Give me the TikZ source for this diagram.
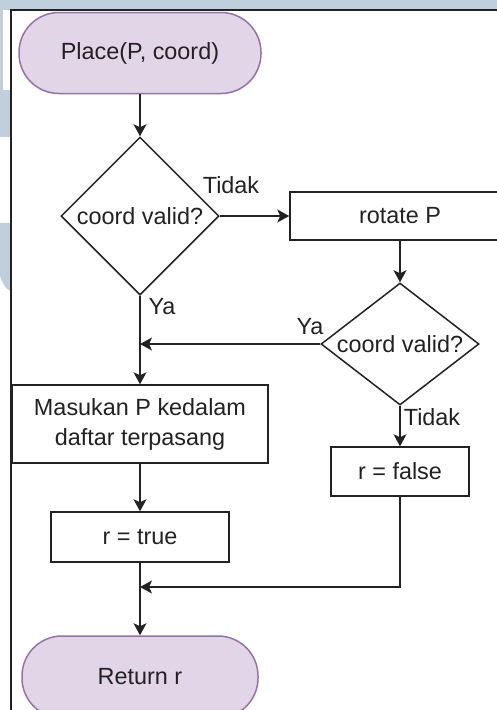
\documentclass[tikz,border=0pt]{standalone}
\usepackage{fontspec}
\setmainfont{Liberation Sans}
\usetikzlibrary{shapes.geometric,arrows.meta}

\definecolor{termfill}{HTML}{E1D5E7}
\definecolor{termline}{HTML}{9673A6}
\definecolor{ink}{HTML}{222222}
\definecolor{band}{HTML}{BFCFDC}

\tikzset{
  base/.style={draw=ink, line width=1.5pt, text=ink, inner sep=0pt,
               font=\fontsize{23.4}{28}\selectfont},
  terminal/.style={base, draw=termline, fill=termfill, rounded corners=40pt},
  process/.style={base, rectangle, fill=white},
  decision/.style={base, diamond, fill=white},
  flow/.style={draw=ink, line width=1.5pt,
               -{Stealth[length=12pt,width=13pt,inset=3pt]}},
  plain/.style={draw=ink, line width=1.5pt},
  tag/.style={text=ink, inner sep=0pt, font=\fontsize{23.4}{28}\selectfont}
}

\begin{document}
\begin{tikzpicture}[x=1pt,y=-1pt]
  \useasboundingbox (0,0) rectangle (497,710);
  \clip (0,0) rectangle (497,710);
  \fill[white] (0,0) rectangle (497,710);

  % page backdrop showing around the frame
  \fill[band] (0,0) rectangle (497,9.5);
  \fill[band] (0,0) rectangle (3,90);
  \fill[band] (0,90) rectangle (10.5,137);
  \fill[band] (0,223) -- (10.5,223) -- (10.5,291) .. controls (5,289) and (2,282) .. (0,276) -- cycle;

  % frame edges
  \draw[ink, line width=1.2pt] (11,710) -- (11,10) -- (497,10);

  % nodes
  \node[terminal, minimum width=242pt, minimum height=81pt] (start) at (140,53) {Place(P, coord)};
  \node[decision, minimum width=158pt, minimum height=158pt] (d1) at (140,216) {coord valid?};
  \node[process, minimum width=220pt, minimum height=48pt] (rot) at (400,216) {rotate P};
  \node[decision, shape aspect=1.3, minimum width=158pt, minimum height=122pt] (d2) at (400,344) {coord valid?};
  \node[process, align=center, minimum width=256pt, minimum height=78pt] (mas) at (140,424)
       {Masukan P kedalam\\[2pt]daftar terpasang};
  \node[process, minimum width=178pt, minimum height=50pt] (rt) at (140,537) {r = true};
  \node[process, minimum width=138pt, minimum height=49pt] (rf) at (400,471.5) {r = false};
  \node[terminal, minimum width=236pt, minimum height=82pt] (ret) at (140,677) {Return r};

  % junction points on the main column
  \coordinate (j1) at (140,344);
  \coordinate (j2) at (140,587);
  \coordinate (k2) at (400,587);

  % connectors
  \draw[flow] (start) -- (d1);
  \draw[flow] (d1.east) -- (rot.west);
  \draw[flow] (rot.south) -- (d2.north);
  \draw[flow] (d2.west) -- (j1);
  \draw[flow] (d1.south) -- (mas.north);
  \draw[flow] (d2.south) -- (rf.north);
  \draw[flow] (mas.south) -- (rt.north);
  \draw[flow] (rt.south) -- (ret.north);
  \draw[flow] (rf.south) -- (k2) -- (j2);

  % branch labels
  \node[tag] (t1) at (231,185) {Tidak};
  \node[tag] (y1) at (162,307) {Ya};
  \node[tag] (y2) at (310,327) {Ya};
  \node[tag] (t2) at (432,417) {Tidak};
\end{tikzpicture}
\end{document}
